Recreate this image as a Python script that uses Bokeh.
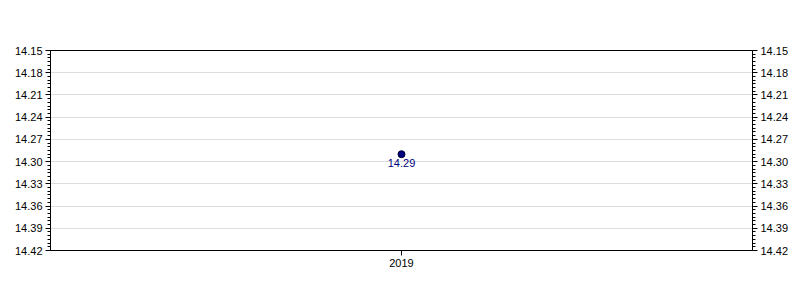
from bokeh.plotting import figure
from bokeh.models import (Range1d, FactorRange, FixedTicker, LinearAxis, NumeralTickFormatter,
                          ColumnDataSource, LabelSet)
from bokeh.core.properties import value
from bokeh.embed import file_html
from bokeh.resources import INLINE

years = ["2019"]
values = [14.29]
value_labels = ["14.29"]
y_ticks = [14.15, 14.18, 14.21, 14.24, 14.27, 14.30, 14.33, 14.36, 14.39, 14.42]
y_min, y_max = 14.15, 14.42

minor = []
for a, b in zip(y_ticks[:-1], y_ticks[1:]):
    for k in range(1, 6):
        minor.append(round(a + (b - a) * k / 6, 5))

FONT = "Liberation Sans"

p = figure(width=800, height=300, output_backend="svg", toolbar_location=None,
           x_range=FactorRange(*years), y_range=Range1d(y_max, y_min),
           y_axis_location="left")
p.min_border_left = 50
p.min_border_right = 48
p.min_border_top = 50
p.min_border_bottom = 50
p.outline_line_color = "black"
p.outline_line_width = 1
p.outline_line_alpha = 1
p.background_fill_color = "white"
p.border_fill_color = "white"

ticker = FixedTicker(ticks=y_ticks, minor_ticks=minor)

def style_axis(ax):
    ax.axis_line_color = "black"
    ax.major_tick_line_color = "black"
    ax.minor_tick_line_color = "black"
    ax.major_tick_out = 5
    ax.major_tick_in = 0
    ax.minor_tick_out = 3
    ax.minor_tick_in = 0
    ax.major_label_text_font = FONT
    ax.major_label_text_font_size = "11px"
    ax.major_label_text_color = "black"
    ax.major_label_standoff = 3

style_axis(p.yaxis[0])
p.yaxis[0].ticker = ticker
p.yaxis[0].formatter = NumeralTickFormatter(format="0.00")

right = LinearAxis(ticker=ticker, formatter=NumeralTickFormatter(format="0.00"))
style_axis(right)
p.add_layout(right, "right")

xa = p.xaxis[0]
style_axis(xa)
xa.minor_tick_line_color = None

p.xgrid.grid_line_color = None
p.ygrid.ticker = ticker
p.ygrid.grid_line_color = "#dddddd"
p.ygrid.grid_line_width = 1

src = ColumnDataSource(dict(x=years, y=values, lab=value_labels))
p.scatter("x", "y", source=src, size=7, fill_color="#000080", line_color="#000033", line_width=1)
labels = LabelSet(x="x", y="y", text="lab", source=src, y_offset=-5,
                  text_align="center", text_baseline="top",
                  text_font=value(FONT), text_font_size="11px", text_color="#000080")
p.add_layout(labels)

open("out.html", "w").write(file_html(p, INLINE))
